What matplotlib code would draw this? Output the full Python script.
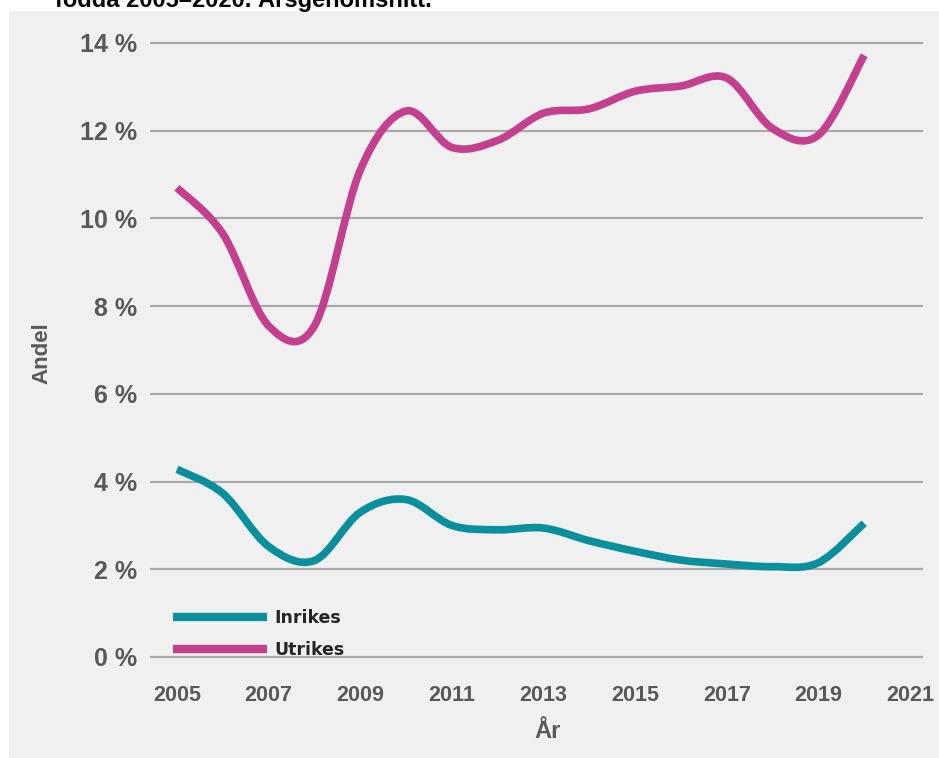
import matplotlib
matplotlib.use("Agg")
import matplotlib.pyplot as plt
from matplotlib.path import Path
from matplotlib.patches import PathPatch, Rectangle
from matplotlib.lines import Line2D

years = [2005, 2006, 2007, 2008, 2009, 2010, 2011, 2012, 2013, 2014, 2015, 2016, 2017, 2018, 2019, 2020]
inrikes = [4.28, 3.73, 2.52, 2.20, 3.30, 3.59, 3.00, 2.90, 2.94, 2.65, 2.41, 2.21, 2.12, 2.06, 2.15, 3.05]
utrikes = [10.70, 9.65, 7.55, 7.55, 11.10, 12.45, 11.62, 11.78, 12.40, 12.50, 12.90, 13.02, 13.20, 12.05, 11.90, 13.72]
series_names = ["Inrikes", "Utrikes"]
series_colors = ["#0a8f9c", "#c4408f"]
x_ticks = [2005, 2007, 2009, 2011, 2013, 2015, 2017, 2019, 2021]
y_ticks = [0, 2, 4, 6, 8, 10, 12, 14]
y_ticklabels = ["0 %", "2 %", "4 %", "6 %", "8 %", "10 %", "12 %", "14 %"]
title_text = "födda 2005–2020. Årsgenomsnitt."
xlabel = "År"
ylabel = "Andel"

W, H = 939, 758
fig = plt.figure(figsize=(W / 100, H / 100), dpi=100, facecolor="white")

# grey panel
fig.patches.append(Rectangle((9 / W, 0), 1 - 9 / W, (H - 11) / H, transform=fig.transFigure,
                             facecolor="#f0f0f0", edgecolor="none", zorder=-10))

ymin, ymax = -0.1, 14.1
ppu = (657 - 43) / 14.0
top_px = 43 - (ymax - 14) * ppu
bot_px = 657 + (0 - ymin) * ppu
ax = fig.add_axes([150 / W, (H - bot_px) / H, (923 - 150) / W, (bot_px - top_px) / H])
ax.set_facecolor("none")
ppx = (910 - 177) / 16.0
xmin = 2005 - (177 - 150) / ppx
xmax = 2021 + (923 - 910) / ppx
ax.set_xlim(xmin, xmax)
ax.set_ylim(ymin, ymax)
for s in ax.spines.values():
    s.set_visible(False)

for yt in y_ticks:
    ax.axhline(yt, color="#a9a9a9", lw=1.6, zorder=1)

def smooth_path(xs, ys):
    n = len(xs)
    verts = [(xs[0], ys[0])]
    codes = [Path.MOVETO]
    for i in range(n - 1):
        x0, y0 = (xs[i - 1], ys[i - 1]) if i > 0 else (xs[i], ys[i])
        x1, y1 = xs[i], ys[i]
        x2, y2 = xs[i + 1], ys[i + 1]
        x3, y3 = (xs[i + 2], ys[i + 2]) if i + 2 < n else (xs[i + 1], ys[i + 1])
        c1 = (x1 + (x2 - x0) / 6.0, y1 + (y2 - y0) / 6.0)
        c2 = (x2 - (x3 - x1) / 6.0, y2 - (y3 - y1) / 6.0)
        verts += [c1, c2, (x2, y2)]
        codes += [Path.CURVE4, Path.CURVE4, Path.CURVE4]
    return Path(verts, codes)

for vals, col in zip([inrikes, utrikes], series_colors):
    ax.add_patch(PathPatch(smooth_path(years, vals), facecolor="none", edgecolor=col,
                           lw=5.5, capstyle="butt", joinstyle="round", zorder=3))

ax.set_xticks(x_ticks)
ax.set_xticklabels([str(t) for t in x_ticks])
ax.set_yticks(y_ticks)
ax.set_yticklabels(y_ticklabels)
ax.tick_params(axis="both", length=0)
ax.tick_params(axis="x", pad=17, labelsize=15.5, labelcolor="#595959")
ax.tick_params(axis="y", pad=9, labelsize=18, labelcolor="#595959")
for lab in ax.get_xticklabels() + ax.get_yticklabels():
    lab.set_fontfamily("Liberation Sans")
    lab.set_fontweight("bold")

handles = [Line2D([], [], color=c, lw=6, solid_capstyle="butt") for c in series_colors]
leg = ax.legend(handles, series_names, loc="upper left", bbox_to_anchor=(173 / W, 1 - 609 / H),
                bbox_transform=fig.transFigure, frameon=False, borderpad=0, borderaxespad=0,
                handlelength=5.4, handletextpad=0.45, labelspacing=0.8,
                prop={"family": "DejaVu Sans", "weight": "bold", "size": 12.5})
for t in leg.get_texts():
    t.set_color("#262626")

fig.text(42 / W, 1 - 353 / H, ylabel, rotation=90, ha="center", va="center",
         fontsize=16, color="#595959", family="Liberation Sans", fontweight="bold")
fig.text(548 / W, 1 - 732 / H, xlabel, ha="center", va="center",
         fontsize=17, color="#595959", family="Liberation Sans", fontweight="bold")
fig.text(55 / W, 1 - 7 / H, title_text, ha="left", va="baseline",
         fontsize=17, color="black", family="Liberation Sans", fontweight="bold")

fig.savefig("out.png", dpi=100, facecolor="white")
